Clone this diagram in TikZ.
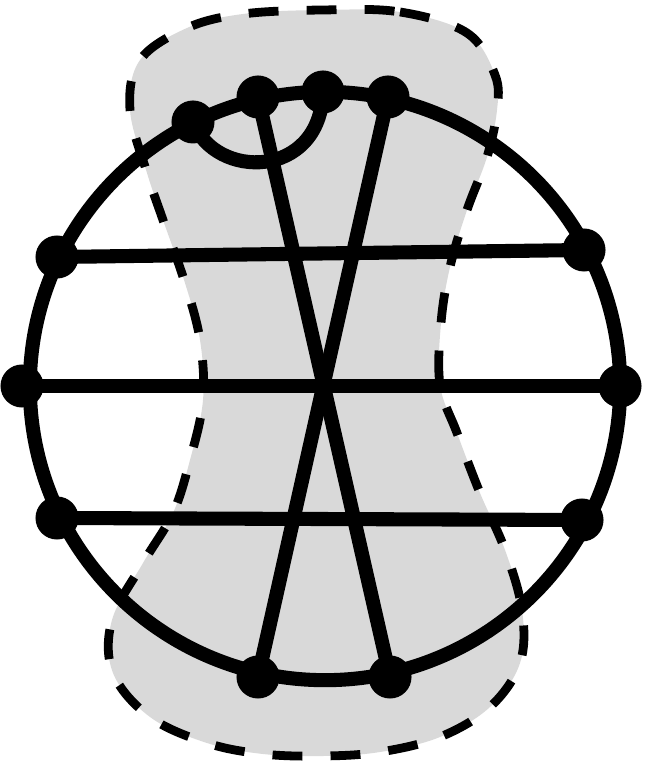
\documentclass[tikz,border=0pt]{standalone}
\definecolor{regiongray}{RGB}{217,217,217}
\pgfdeclarelayer{bg}
\pgfsetlayers{bg,main}
\begin{document}
\begin{tikzpicture}[x=0.01cm,y=-0.01cm,
  vert/.style={circle,fill=black,minimum size=0.43cm,inner sep=0pt},
  edge/.style={line width=4pt},
  region/.style={fill=regiongray,draw=black,line width=2.5pt,dash pattern=on 8.5pt off 8pt}]
\useasboundingbox (0,0) rectangle (644,765);
% vertices
\node[vert] (t1) at (193,122) {};
\node[vert] (t2) at (258,97) {};
\node[vert] (t3) at (323,92) {};
\node[vert] (t4) at (388,97) {};
\node[vert] (l1) at (57,257) {};
\node[vert] (l2) at (22,386) {};
\node[vert] (l3) at (57,518) {};
\node[vert] (r1) at (584,250) {};
\node[vert] (r2) at (620,386) {};
\node[vert] (r3) at (582,520) {};
\node[vert] (b1) at (258,677) {};
\node[vert] (b2) at (390,677) {};
\begin{pgfonlayer}{bg}
% shaded region
\path[region] plot[smooth cycle,tension=0.6] coordinates {
 (323,10) (400,12) (467,33) (495,75) (497,110) (487,157) (467,210) (450,267)
 (441,323) (440,385) (457,433) (480,493) (505,550) (522,610) (520,663)
 (490,707) (440,737) (380,752) (323,756) (263,754) (207,743) (150,717)
 (113,673) (112,620) (143,563) (173,513) (190,460) (203,400) (200,340)
 (185,283) (163,220) (147,173) (130,110) (140,60) (187,28) (243,14)};
% outer cycle
\coordinate (c) at (325,386);
\draw[edge] (c) ellipse [x radius=2.95cm, y radius=2.94cm];
% chords
\draw[edge] (l1.center) -- (r1.center);
\draw[edge] (l2.center) -- (r2.center);
\draw[edge] (l3.center) -- (r3.center);
\draw[edge] (t2.center) -- (b2.center);
\draw[edge] (t4.center) -- (b1.center);
\draw[edge] (t1.center) .. controls (215,180) and (320,180) .. (t3.center);
\end{pgfonlayer}
\end{tikzpicture}
\end{document}
